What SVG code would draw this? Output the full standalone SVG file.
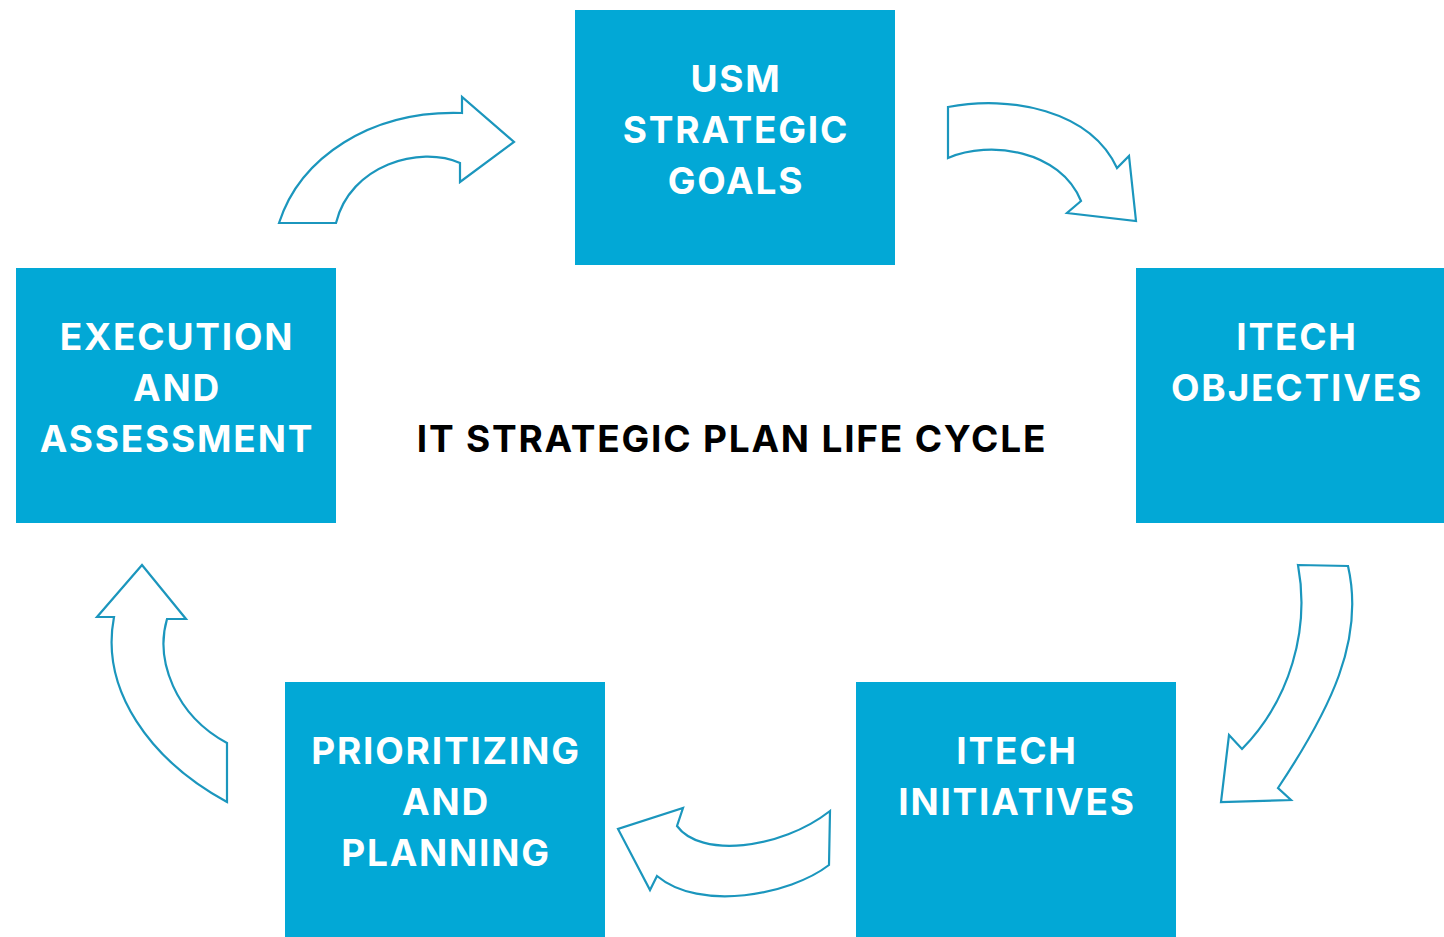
<svg xmlns="http://www.w3.org/2000/svg" width="1444" height="937" viewBox="0 0 1444 937">
<style>
.box{fill:#02a8d6}
.lbl{font-family:Inter,Lato,"Liberation Sans",sans-serif;font-weight:700;font-size:37px;letter-spacing:1.8px;fill:#ffffff;text-anchor:middle}
.title{font-family:Inter,Lato,"Liberation Sans",sans-serif;font-weight:700;font-size:37px;letter-spacing:1.8px;fill:#000000;text-anchor:middle}
.arr{fill:#ffffff;stroke:#1b96bd;stroke-width:2.2;stroke-linejoin:miter}
</style>
<rect width="1444" height="937" fill="#ffffff"/>
<g id="connectors">
<path class="arr" d="M279,223 C300,158 370,110 462,113 L462,97 L514,142 L460,182 L460,163 C420,145 350,165 336,223 Z"/>
<path class="arr" d="M948,107 C1010,95 1090,110 1117,168 L1129,156 L1136,221 L1067,213 L1081,201 C1060,150 990,140 948,158 Z"/>
<path class="arr" d="M1298,565 L1348,566 C1365,640 1330,710 1278,788 L1291,800 L1221,802 L1229,735 L1242,749 C1290,700 1310,630 1298,565 Z"/>
<path class="arr" d="M830,811 L829,865 C790,895 700,912 657,876 L650,890 L618,829 L683,808 L677,826 C700,858 780,850 830,811 Z"/>
<path class="arr" d="M142,565 L186,619 L167,619 C155,660 175,715 227,743 L227,802 C150,760 100,690 114,617 L97,617 Z"/>
</g>
<g id="usm">
<rect class="box" x="575" y="10" width="320" height="255"/>
<text class="lbl" x="736" y="92">USM</text>
<text class="lbl" x="736" y="143">STRATEGIC</text>
<text class="lbl" x="736" y="194">GOALS</text>
</g>
<g id="objectives">
<rect class="box" x="1136" y="268" width="320" height="255"/>
<text class="lbl" x="1297" y="350">ITECH</text>
<text class="lbl" x="1297" y="401">OBJECTIVES</text>
</g>
<g id="initiatives">
<rect class="box" x="856" y="682" width="320" height="255"/>
<text class="lbl" x="1017" y="764">ITECH</text>
<text class="lbl" x="1017" y="815">INITIATIVES</text>
</g>
<g id="prioritizing">
<rect class="box" x="285" y="682" width="320" height="255"/>
<text class="lbl" x="446" y="764">PRIORITIZING</text>
<text class="lbl" x="446" y="815">AND</text>
<text class="lbl" x="446" y="866">PLANNING</text>
</g>
<g id="execution">
<rect class="box" x="16" y="268" width="320" height="255"/>
<text class="lbl" x="177" y="350">EXECUTION</text>
<text class="lbl" x="177" y="401">AND</text>
<text class="lbl" x="177" y="452">ASSESSMENT</text>
</g>
<g id="title">
<text class="title" x="732" y="452">IT STRATEGIC PLAN LIFE CYCLE</text>
</g>
</svg>
